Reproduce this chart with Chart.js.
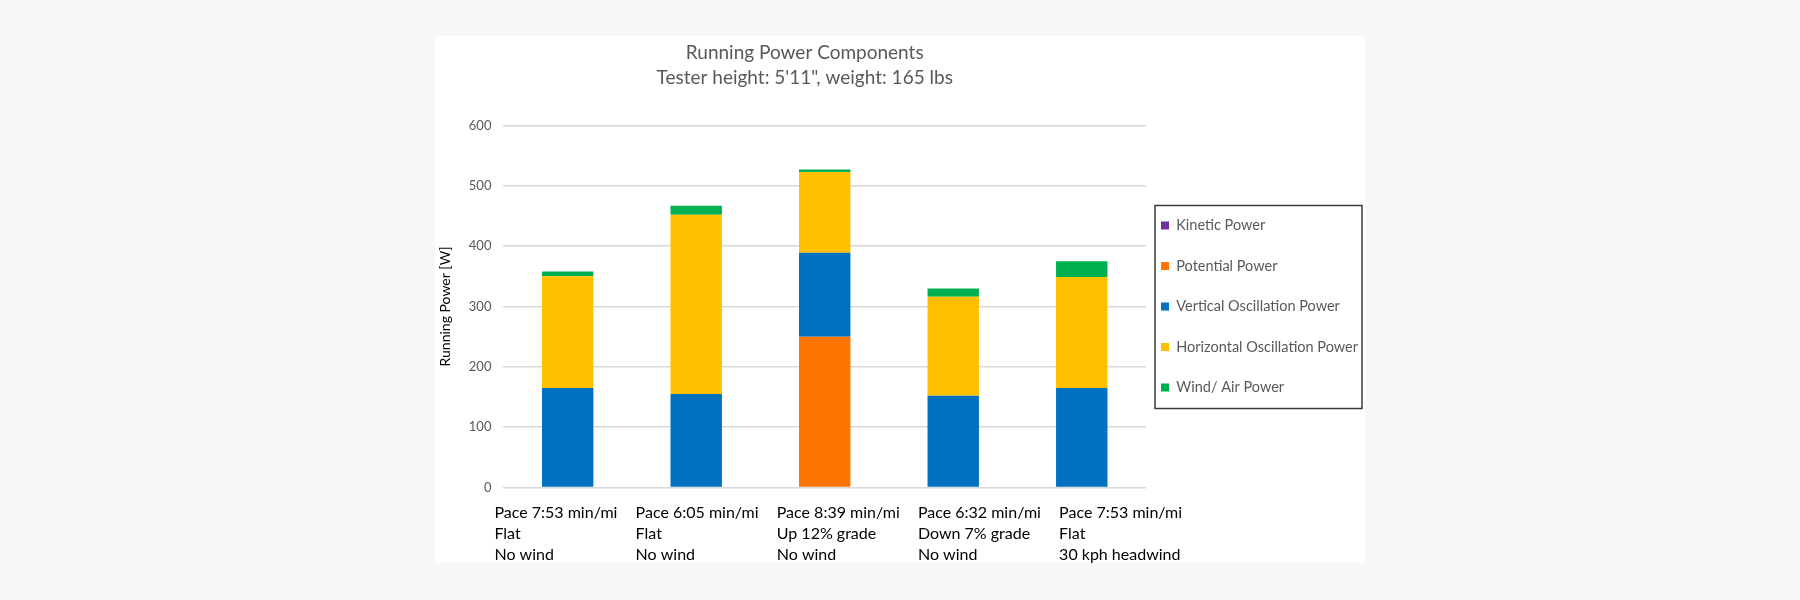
<!DOCTYPE html>
<html>
<head>
<meta charset="utf-8">
<script src="https://cdn.jsdelivr.net/npm/chart.js@4/dist/chart.umd.min.js"></script>
<style>
  html, body { margin: 0; padding: 0; background: #f7f7f7; }
  #panel { position: absolute; left: 435px; top: 36px; width: 930px; height: 527px; background: #ffffff; }
</style>
</head>
<body>
<div id="panel"><canvas id="powerChart"></canvas></div>
<script>
// categories (one label per run, shown on three lines)
const runs = [
    ['Pace 7:53 min/mi', 'Flat', 'No wind'],
    ['Pace 6:05 min/mi', 'Flat', 'No wind'],
    ['Pace 8:39 min/mi', 'Up 12% grade', 'No wind'],
    ['Pace 6:32 min/mi', 'Down 7% grade', 'No wind'],
    ['Pace 7:53 min/mi', 'Flat', '30 kph headwind']
];

// power components in watts, stacked bottom to top
const kineticPower = [0, 0, 0, 0, 0];
const potentialPower = [0, 0, 250, 0, 0];
const verticalPower = [165, 155, 139, 152, 165];
const horizontalPower = [185, 297, 134, 164, 184];
const windPower = [8, 15, 4, 14, 26];

const yTicks = [0, 100, 200, 300, 400, 500, 600];

const gray = '#595959';

// in the original the run labels sit on a wider pitch than the bars
const labelSlots = runs.map((r, i) => i);

// nudge title / legend like the Excel layout and frame the legend
const excelLayout = {
    id: 'excelLayout',
    beforeDraw(chart) {
        const area = chart.chartArea;
        const t = chart.titleBlock;
        if (t) { t.left = area.left - 20; t.right = area.right - 20; }
        const lg = chart.legend;
        lg.left = area.right - 11;
        lg.right = lg.left + lg.width;
    },
    afterDraw(chart) {
        const lg = chart.legend;
        const boxes = lg.legendHitBoxes;
        if (!boxes || !boxes.length) return;
        const first = boxes[0], last = boxes[boxes.length - 1];
        const ctx = chart.ctx;
        ctx.save();
        ctx.strokeStyle = '#3a3a3a';
        ctx.lineWidth = 1.5;
        const x0 = lg.left + lg.options.labels.padding - 6;
        const y0 = first.top + first.height / 2 - 20;
        const y1 = last.top + last.height / 2 + 21;
        ctx.strokeRect(x0, y0, chart.width - 3 - x0, y1 - y0);
        ctx.restore();
    }
};

// chart.js reserves the tick padding twice when fitting an axis; keep it once
const dropExtraPadding = axis => {
    if (axis.isHorizontal()) axis.height -= axis.options.ticks.padding;
    else axis.width -= axis.options.ticks.padding;
};

const powerChart = new Chart(document.getElementById('powerChart'), {
    type: 'bar',
    data: {
        labels: runs,
        datasets: [
            { label: 'Kinetic Power', data: kineticPower, backgroundColor: '#7030A0' },
            { label: 'Potential Power', data: potentialPower, backgroundColor: '#FF7300' },
            { label: 'Vertical Oscillation Power', data: verticalPower, backgroundColor: '#0070C0' },
            { label: 'Horizontal Oscillation Power', data: horizontalPower, backgroundColor: '#FFC000' },
            { label: 'Wind/ Air Power', data: windPower, backgroundColor: '#00B050' }
        ]
    },
    options: {
        responsive: true,
        maintainAspectRatio: false,
        animation: false,
        datasets: {
            bar: { barPercentage: 0.4, categoryPercentage: 1, borderWidth: 0 }
        },
        layout: { padding: { left: 0, right: -14, top: 0, bottom: -2 } },
        scales: {
            x: {
                stacked: true,
                display: false
            },
            runLabels: {
                type: 'linear',
                position: 'bottom',
                offset: false,
                min: -0.078,
                max: 4.474,
                afterBuildTicks: axis => { axis.ticks = labelSlots.map(v => ({ value: v })); },
                afterFit: dropExtraPadding,
                grid: { display: false, drawTicks: false, offset: false },
                border: { display: false },
                ticks: {
                    callback: (value, index) => runs[index],
                    color: '#000',
                    font: { family: 'Lato', size: 16, lineHeight: 1.3 },
                    align: 'start',
                    labelOffset: -20,
                    padding: 15,
                    maxRotation: 0,
                    autoSkip: false
                }
            },
            y: {
                stacked: true,
                min: yTicks[0],
                max: yTicks[yTicks.length - 1],
                afterBuildTicks: axis => { axis.ticks = yTicks.map(v => ({ value: v })); },
                afterFit: dropExtraPadding,
                grid: { color: '#d9d9d9', lineWidth: 1.5, drawTicks: false },
                border: { display: false },
                ticks: { color: gray, font: { family: 'Lato', size: 13 }, padding: 12 },
                title: {
                    display: true,
                    text: 'Running Power [W]',
                    color: '#000',
                    font: { family: 'Lato', size: 14 },
                    padding: { top: 2, bottom: 15 }
                }
            }
        },
        plugins: {
            title: {
                display: true,
                fullSize: false,
                text: ['Running Power Components', 'Tester height: 5\'11", weight: 165 lbs'],
                color: gray,
                font: { family: 'Lato', size: 19, weight: 'normal', lineHeight: 1.3 },
                padding: { top: 5, bottom: 35 }
            },
            legend: {
                position: 'right',
                fullSize: false,
                labels: {
                    color: gray,
                    font: { family: 'Lato', size: 14.5 },
                    boxWidth: 8,
                    boxHeight: 8,
                    padding: 26
                }
            },
            tooltip: { enabled: false }
        }
    },
    plugins: [excelLayout]
});
</script>
</body>
</html>
